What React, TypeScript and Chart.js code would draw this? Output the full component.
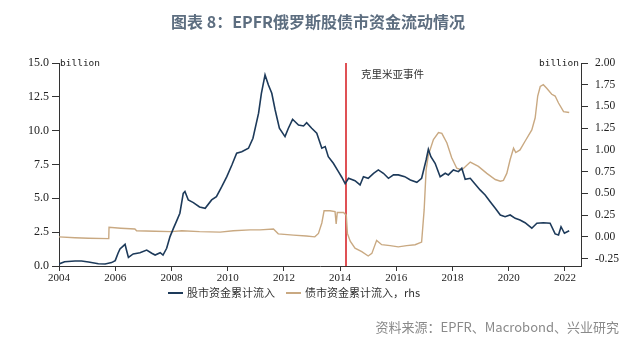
import React, { useEffect, useRef } from "react";
import { Chart, registerables } from "chart.js";

Chart.register(...registerables);

const xTickYears = [2004, 2006, 2008, 2010, 2012, 2014, 2016, 2018, 2020, 2022];

const stockYears = [
  2004.0, 2004.2, 2004.57, 2004.8, 2005.05, 2005.4, 2005.64, 2005.87, 2006.0, 2006.1,
  2006.17, 2006.35, 2006.4, 2006.47, 2006.64, 2006.88, 2007.12, 2007.3, 2007.42, 2007.6,
  2007.7, 2007.83, 2007.95, 2008.07, 2008.19, 2008.3, 2008.42, 2008.48, 2008.6, 2008.78,
  2009.0, 2009.2, 2009.43, 2009.6, 2009.79, 2009.97, 2010.15, 2010.32, 2010.5, 2010.74,
  2010.9, 2011.1, 2011.2, 2011.33, 2011.45, 2011.57, 2011.69, 2011.84, 2012.04, 2012.16,
  2012.31, 2012.52, 2012.7, 2012.81, 2012.99, 2013.17, 2013.35, 2013.47, 2013.58, 2013.76,
  2013.94, 2014.06, 2014.18, 2014.3, 2014.53, 2014.71, 2014.83, 2015.0, 2015.19, 2015.36,
  2015.54, 2015.72, 2015.9, 2016.07, 2016.3, 2016.5, 2016.73, 2016.9, 2017.06, 2017.14,
  2017.23, 2017.38, 2017.56, 2017.74, 2017.85, 2018.03, 2018.21, 2018.33, 2018.45, 2018.63,
  2018.8, 2018.98, 2019.16, 2019.34, 2019.52, 2019.7, 2019.87, 2020.05, 2020.23, 2020.4,
  2020.58, 2020.82, 2021.0, 2021.23, 2021.47, 2021.65, 2021.77, 2021.86, 2021.98, 2022.15,
];
const stockValues = [
  0.15, 0.32, 0.37, 0.37, 0.3, 0.17, 0.15, 0.25, 0.4, 0.94,
  1.26, 1.6, 1.18, 0.64, 0.89, 0.98, 1.18, 0.94, 0.81, 0.98,
  0.81, 1.31, 2.17, 2.78, 3.35, 3.9, 5.37, 5.5, 4.88, 4.68,
  4.36, 4.26, 4.88, 5.12, 5.86, 6.6, 7.46, 8.33, 8.45, 8.7,
  9.44, 11.29, 12.76, 14.12, 13.38, 12.76, 11.53, 10.18, 9.56, 10.18,
  10.84, 10.42, 10.35, 10.59, 10.18, 9.81, 8.7, 8.82, 8.08, 7.59,
  6.97, 6.56, 6.08, 6.48, 6.3, 5.99, 6.6, 6.48, 6.85, 7.1,
  6.85, 6.48, 6.73, 6.73, 6.6, 6.36, 6.18, 6.48, 7.83, 8.62,
  8.08, 7.59, 6.6, 6.85, 6.73, 7.1, 6.97, 7.22, 6.41, 6.48,
  6.06, 5.62, 5.25, 4.75, 4.26, 3.77, 3.64, 3.77, 3.52, 3.4,
  3.2, 2.79, 3.16, 3.2, 3.16, 2.37, 2.29, 2.9, 2.42, 2.61,
];

const bondYears = [
  2004.0, 2004.57, 2005.05, 2005.77, 2005.78, 2006.2, 2006.7, 2006.76, 2007.42, 2008.0,
  2008.37, 2009.0, 2009.73, 2010.2, 2010.8, 2011.15, 2011.63, 2011.8, 2012.34, 2012.8,
  2013.1, 2013.23, 2013.35, 2013.43, 2013.64, 2013.82, 2013.86, 2013.9, 2014.12, 2014.22,
  2014.26, 2014.36, 2014.53, 2014.77, 2015.0, 2015.13, 2015.3, 2015.48, 2015.78, 2016.07,
  2016.37, 2016.67, 2016.9, 2016.99, 2017.06, 2017.14, 2017.32, 2017.5, 2017.62, 2017.8,
  2017.97, 2018.15, 2018.33, 2018.63, 2018.92, 2019.22, 2019.52, 2019.7, 2019.81, 2019.93,
  2020.05, 2020.17, 2020.25, 2020.4, 2020.58, 2020.82, 2020.94, 2021.03, 2021.12, 2021.23,
  2021.35, 2021.53, 2021.65, 2021.77, 2021.95, 2022.15,
];
const bondValues = [
  0.0, -0.01, -0.015, -0.02, 0.11, 0.1, 0.09, 0.07, 0.065, 0.06,
  0.07, 0.06, 0.055, 0.07, 0.08, 0.08, 0.09, 0.035, 0.02, 0.01,
  0.0, 0.04, 0.16, 0.3, 0.3, 0.29, 0.15, 0.28, 0.28, 0.25,
  0.04, -0.05, -0.13, -0.17, -0.22, -0.19, -0.04, -0.09, -0.1, -0.115,
  -0.1, -0.09, -0.06, 0.31, 0.77, 0.94, 1.12, 1.2, 1.19, 1.08,
  0.91, 0.79, 0.77, 0.86, 0.81, 0.73, 0.66, 0.64, 0.65, 0.73,
  0.89, 1.02, 0.97, 1.0, 1.1, 1.23, 1.37, 1.62, 1.73, 1.75,
  1.71, 1.64, 1.62, 1.54, 1.44, 1.43,
];

const eventYear = [2014.21, 2014.21];
const eventValues = [0, 15];

const stockLabel = "股市资金累计流入";
const bondLabel = "债市资金累计流入，rhs";
const eventLabel = "克里米亚事件";
const titleText = "图表 8：EPFR俄罗斯股债市资金流动情况";
const sourceText = "资料来源：EPFR、Macrobond、兴业研究";
const unitText = "billion";

const BLUE = "#1d3a5a";
const TAN = "#c9a982";
const RED = "#d8262b";
const AXIS = "#333333";

const decorPlugin = {
  id: "decor",
  afterDraw(chart: any) {
    const ctx = chart.ctx;
    const area = chart.chartArea;
    ctx.save();
    // title
    ctx.fillStyle = "#5d6e80";
    ctx.font = "bold 16px 'Noto Sans CJK SC', 'Noto Sans', sans-serif";
    ctx.textAlign = "center";
    ctx.textBaseline = "middle";
    ctx.fillText(titleText, 318, 22);
    // source
    ctx.fillStyle = "#8a8a8a";
    ctx.font = "13px 'Noto Sans CJK SC', 'Noto Sans', sans-serif";
    ctx.textAlign = "right";
    ctx.fillText(sourceText, 619, 327);
    // units
    ctx.fillStyle = "#222";
    ctx.font = "9.5px 'DejaVu Sans Mono', monospace";
    ctx.textAlign = "left";
    ctx.fillText(unitText, area.left + 1, area.top + 1);
    ctx.textAlign = "right";
    ctx.fillText(unitText, area.right - 2, area.top + 1);
    // event label
    const xs = chart.scales.x;
    ctx.fillStyle = "#333";
    ctx.font = "10.5px 'Noto Sans CJK SC', sans-serif";
    ctx.textAlign = "left";
    ctx.fillText(eventLabel, xs.getPixelForValue(eventYear[0]) + 15, 74);
    // legend
    const items = chart.data.datasets.filter((d: any) => !d.hideInLegend);
    let x = 168;
    const y = 293;
    ctx.font = "11px 'Noto Sans CJK SC', sans-serif";
    ctx.textAlign = "left";
    items.forEach((d: any) => {
      ctx.strokeStyle = d.borderColor;
      ctx.lineWidth = 2;
      ctx.beginPath();
      ctx.moveTo(x, y);
      ctx.lineTo(x + 15, y);
      ctx.stroke();
      ctx.fillStyle = "#333";
      ctx.fillText(d.label, x + 19, y);
      x += 19 + ctx.measureText(d.label).width + 11;
    });
    ctx.restore();
  },
};

export default function App() {
  const ref = useRef<HTMLCanvasElement | null>(null);
  useEffect(() => {
    if (!ref.current) return;
    const chart = new Chart(ref.current, {
      type: "line",
      data: {
        datasets: [
          {
            label: stockLabel,
            data: stockYears.map((x, i) => ({ x, y: stockValues[i] })),
            borderColor: BLUE,
            borderWidth: 1.6,
            pointRadius: 0,
            tension: 0,
            yAxisID: "y",
          },
          {
            label: bondLabel,
            data: bondYears.map((x, i) => ({ x, y: bondValues[i] })),
            borderColor: TAN,
            borderWidth: 1.4,
            pointRadius: 0,
            tension: 0,
            yAxisID: "y1",
          },
          {
            label: eventLabel,
            data: eventYear.map((x, i) => ({ x, y: eventValues[i] })),
            borderColor: RED,
            borderWidth: 1.6,
            pointRadius: 0,
            yAxisID: "y",
            hideInLegend: true,
          } as any,
        ],
      },
      options: {
        responsive: false,
        animation: false,
        devicePixelRatio: 1,
        layout: { padding: { top: 63, left: 0, right: 0, bottom: 0 } },
        plugins: { legend: { display: false }, title: { display: false }, tooltip: { enabled: false } },
        scales: {
          x: {
            type: "linear",
            min: 2004,
            max: 2022.57,
            afterFit: (s: any) => { s.height = 87; },
            ticks: {
              stepSize: 2,
              includeBounds: false,
              autoSkip: false,
              maxRotation: 0,
              padding: 1,
              color: "#222",
              font: { family: "'Liberation Serif', serif", size: 11 },
              callback: (v: any) => (xTickYears.includes(v) ? String(v) : ""),
            },
            grid: { drawOnChartArea: false, drawTicks: true, tickLength: 5, color: AXIS },
            border: { display: true, color: AXIS },
          },
          y: {
            position: "left",
            min: 0,
            max: 15,
            afterFit: (s: any) => { s.width = 59; },
            ticks: {
              stepSize: 2.5,
              padding: 3,
              color: "#222",
              font: { family: "'Liberation Serif', serif", size: 12 },
              callback: (v: any) => Number(v).toFixed(1),
            },
            grid: { drawOnChartArea: false, drawTicks: true, tickLength: 7, color: AXIS },
            border: { display: true, color: AXIS },
          },
          y1: {
            position: "right",
            min: -0.335,
            max: 2.0,
            afterFit: (s: any) => { s.width = 59; },
            ticks: {
              stepSize: 0.25,
              includeBounds: false,
              padding: 7,
              color: "#222",
              font: { family: "'Liberation Serif', serif", size: 11.5 },
              callback: (v: any) => Number(v).toFixed(2),
            },
            grid: { drawOnChartArea: false, drawTicks: true, tickLength: 7, color: AXIS },
            border: { display: true, color: AXIS },
          },
        },
      } as any,
      plugins: [decorPlugin],
    });
    return () => chart.destroy();
  }, []);
  return (
    <div style={{ position: "absolute", left: 0, top: 0, width: 640, height: 353, background: "#fff" }}>
      <canvas ref={ref} width={640} height={353} style={{ width: 640, height: 353 }} />
    </div>
  );
}
